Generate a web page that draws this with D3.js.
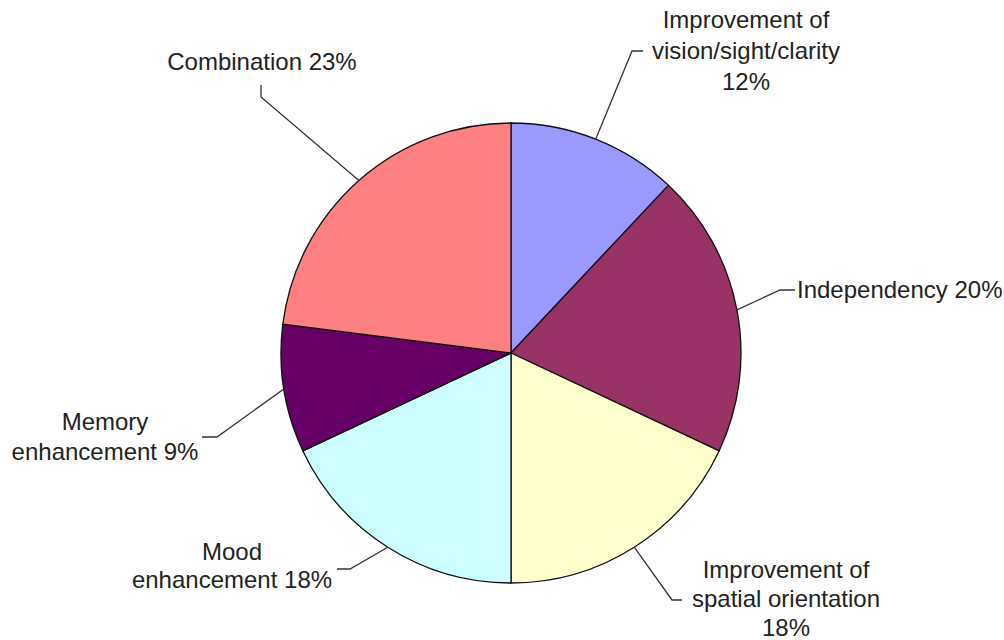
<!DOCTYPE html>
<html>
<head>
<meta charset="utf-8">
<script src="https://cdn.jsdelivr.net/npm/d3@7/dist/d3.min.js"></script>
<style>
  html, body { margin: 0; padding: 0; background: #ffffff; }
  svg { display: block; }
  text { font-family: "Liberation Sans", Arial, sans-serif; font-size: 24px; fill: #222; }
</style>
</head>
<body>
<svg id="chart" width="1004" height="640"></svg>
<script>
// Category labels (one array of text lines per slice) and their shares in percent
const categories = [
  ["Improvement of", "vision/sight/clarity", "12%"],
  ["Independency 20%"],
  ["Improvement of", "spatial orientation", "18%"],
  ["Mood", "enhancement 18%"],
  ["Memory", "enhancement 9%"],
  ["Combination 23%"]
];
const values = [12, 20, 18, 18, 9, 23];
const colors = ["#9999FF", "#993366", "#FFFFCC", "#CCFFFF", "#660066", "#FF8080"];

// Label layout: leader elbow, leader end, text anchor and first baseline
const labelLayout = [
  { elbow: [632, 51], end: [643, 51], tx: 746, ty: 28, anchor: "middle", lead: 31 },
  { elbow: [780, 290], end: [795, 290], tx: 797, ty: 298, anchor: "start", lead: 30 },
  { elbow: [672, 600], end: [682, 600], tx: 786, ty: 578, anchor: "middle", lead: 29 },
  { elbow: [350, 569], end: [337, 569], tx: 232, ty: 560, anchor: "middle", lead: 28 },
  { elbow: [217, 437], end: [202, 437], tx: 105, ty: 430, anchor: "middle", lead: 30 },
  { elbow: [261, 97], end: [261, 85], tx: 262, ty: 70, anchor: "middle", lead: 30 }
];

const svg = d3.select("#chart");
const cx = 511, cy = 353, r = 230;

const pie = d3.pie().value(d => d).sort(null);
const arcs = pie(values);
const arc = d3.arc().innerRadius(0).outerRadius(r);

const g = svg.append("g").attr("transform", `translate(${cx},${cy})`);

g.selectAll("path.slice")
  .data(arcs)
  .join("path")
  .attr("class", "slice")
  .attr("d", arc)
  .attr("fill", (d, i) => colors[i])
  .attr("stroke", "#111")
  .attr("stroke-width", 1.3)
  .attr("stroke-linejoin", "round");

// Leader lines from the middle of each slice's rim
arcs.forEach((d, i) => {
  const mid = (d.startAngle + d.endAngle) / 2;
  const p0 = [cx + r * Math.sin(mid), cy - r * Math.cos(mid)];
  const L = labelLayout[i];
  svg.append("polyline")
    .attr("points", [p0, L.elbow, L.end].map(p => p.join(",")).join(" "))
    .attr("fill", "none")
    .attr("stroke", "#333")
    .attr("stroke-width", 1.3);

  const t = svg.append("text")
    .attr("x", L.tx)
    .attr("y", L.ty)
    .attr("text-anchor", L.anchor);
  categories[i].forEach((line, k) => {
    t.append("tspan")
      .attr("x", L.tx)
      .attr("y", L.ty + k * L.lead)
      .text(line);
  });
});
</script>
</body>
</html>
